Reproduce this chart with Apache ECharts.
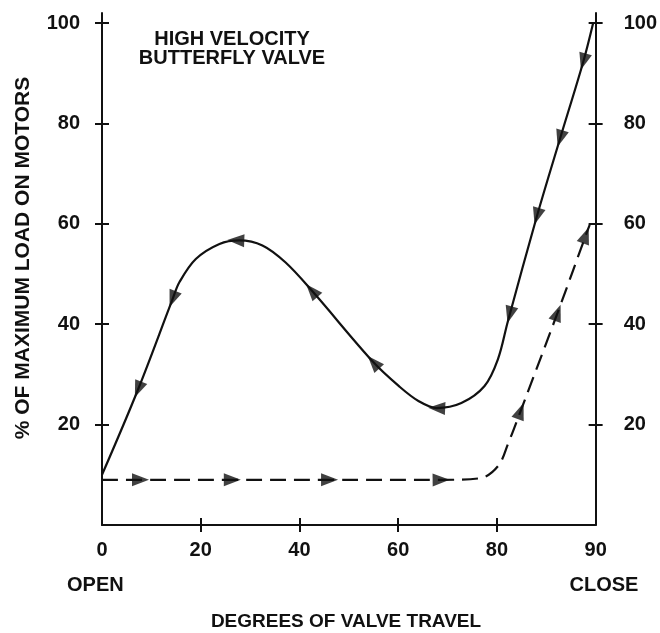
<!DOCTYPE html>
<html><head><meta charset="utf-8">
<script src="https://cdn.jsdelivr.net/npm/echarts@6/dist/echarts.min.js"></script>
<style>html,body{margin:0;padding:0;background:#fff}#c{width:660px;height:633px}</style>
</head><body><div id="c"></div>
<script>
// ---- data ----
const xTickValues = [0, 20, 40, 60, 80, 100];
const xTickLabels = ['0', '20', '40', '60', '80', '90'];
const xMinorTicks = [20, 40, 60, 80];
const yTickValues = [20, 40, 60, 80, 100];
const yTickLabels = ['20', '40', '60', '80', '100'];

// closing travel (solid line) — traversed from CLOSE back to OPEN
const closingX = [0, 7.3, 14.3, 15.7, 19, 23.8, 27.8, 32.5, 37.2, 42.5, 55, 60.1, 64.1, 67.8, 72.8, 77.5, 80.2, 82.2, 88.1, 92.8, 97.5, 99.5];
const closingY = [10, 27, 45, 48.4, 53, 56, 56.7, 55.7, 52.3, 46.7, 32.4, 27.7, 24.7, 23.3, 24.3, 27.7, 33, 40.5, 61.5, 77, 92.3, 100];
// opening travel (dashed line) — traversed from OPEN to CLOSE
const openingX = [0, 7.8, 26.4, 46.1, 68.7, 76.5, 80.2, 82.3, 84.8, 92.3, 98, 98.8];
const openingY = [9, 9, 9, 9, 9, 9.3, 11.7, 16.3, 22.7, 42.3, 57.7, 59.8];

// arrow heads
const closingArrowX = [97.5, 92.8, 88.1, 82.6, 67.8, 55, 42.5, 27.1, 14.3, 7.3];
const closingArrowY = [92.3, 77, 61.5, 41.9, 23.3, 32.4, 46.7, 56.7, 45, 27];
const openingArrowX = [7.8, 26.4, 46.1, 68.7, 84.8, 92.3, 98];
const openingArrowY = [9, 9, 9, 9, 22.7, 42.3, 57.7];

// ---- chart ----
const FONT = '"Liberation Sans", Arial, Helvetica, sans-serif';
const INK = '#111';
const pairs = (xs, ys) => xs.map((x, i) => [x, ys[i]]);
const closing = pairs(closingX, closingY);
const opening = pairs(openingX, openingY);

const chart = echarts.init(document.getElementById('c'), null, {renderer: 'canvas'});

const labelStyle = {color: INK, fontFamily: FONT, fontWeight: 'bold', fontSize: 20};
const tickLine = {color: INK, width: 2};

function xAxisDef(inside) {
  return {
    type: 'value', min: 0, max: 100, position: 'bottom',
    axisLine: {show: !inside, onZero: false, lineStyle: {color: INK, width: 2}},
    axisTick: {show: true, inside: inside, length: 7, customValues: xMinorTicks, lineStyle: tickLine},
    axisLabel: inside ? {show: false} : Object.assign({
      customValues: xTickValues, margin: 15,
      formatter: v => xTickLabels[xTickValues.indexOf(v)]
    }, labelStyle),
    splitLine: {show: false}
  };
}
function yAxisDef(pos, inside, margin) {
  return {
    type: 'value', min: 0, max: 102, position: pos,
    axisLine: {show: !inside, onZero: false, lineStyle: {color: INK, width: 2}},
    axisTick: {show: true, inside: inside, length: 7, customValues: yTickValues, lineStyle: tickLine},
    axisLabel: inside ? {show: false} : Object.assign({
      customValues: yTickValues, margin: margin,
      formatter: v => yTickLabels[yTickValues.indexOf(v)]
    }, labelStyle),
    splitLine: {show: false}
  };
}

const option = {
  animation: false,
  backgroundColor: '#fff',
  grid: {left: 102, right: 63, top: 13, bottom: 108, containLabel: false},
  xAxis: [xAxisDef(false), xAxisDef(true)],
  yAxis: [yAxisDef('left', false, 22), yAxisDef('left', true, 0), yAxisDef('right', false, 28), yAxisDef('right', true, 0)],
  series: [
    {type: 'line', name: 'closing', data: closing, showSymbol: false, smooth: 0.35, silent: true,
     lineStyle: {color: INK, width: 2.2}, z: 3},
    {type: 'line', name: 'opening', data: opening, showSymbol: false, smooth: 0.35, silent: true,
     lineStyle: {color: INK, width: 2.2, type: [16, 8]}, z: 3},
    {type: 'scatter', name: 'closingArrows', data: [], symbol: 'triangle', symbolSize: [13, 17], silent: true,
     itemStyle: {color: INK}, z: 5},
    {type: 'scatter', name: 'openingArrows', data: [], symbol: 'triangle', symbolSize: [13, 17], silent: true,
     itemStyle: {color: INK}, z: 5}
  ],
  graphic: [
    {type: 'text', x: 232, y: 39, style: {text: 'HIGH VELOCITY', fill: INK, font: 'bold 20px ' + FONT, align: 'center', verticalAlign: 'middle'}},
    {type: 'text', x: 232, y: 58, style: {text: 'BUTTERFLY VALVE', fill: INK, font: 'bold 20px ' + FONT, align: 'center', verticalAlign: 'middle'}},
    {type: 'text', x: 23, y: 258, rotation: Math.PI / 2, style: {text: '% OF MAXIMUM LOAD ON MOTORS', fill: INK, font: 'bold 21px ' + FONT, align: 'center', verticalAlign: 'middle'}},
    {type: 'text', x: 67, y: 585, style: {text: 'OPEN', fill: INK, font: 'bold 20px ' + FONT, align: 'left', verticalAlign: 'middle'}},
    {type: 'text', x: 604, y: 585, style: {text: 'CLOSE', fill: INK, font: 'bold 20px ' + FONT, align: 'center', verticalAlign: 'middle'}},
    {type: 'text', x: 346, y: 622, style: {text: 'DEGREES OF VALVE TRAVEL', fill: INK, font: 'bold 19px ' + FONT, align: 'center', verticalAlign: 'middle'}}
  ]
};
chart.setOption(option);

// arrow orientation from the curve tangent (pixel space), in direction of travel
function arrowItems(ax, ay, curve, sign) {
  const px = curve.map(p => chart.convertToPixel({seriesIndex: 0}, p));
  return ax.map((x, k) => {
    const a = chart.convertToPixel({seriesIndex: 0}, [x, ay[k]]);
    let best = 0, bd = Infinity;
    px.forEach((p, i) => { const d = (p[0]-a[0])**2 + (p[1]-a[1])**2; if (d < bd) { bd = d; best = i; } });
    const i0 = Math.max(0, best - 1), i1 = Math.min(px.length - 1, best + 1);
    const dx = (px[i1][0] - px[i0][0]) * sign, dy = (px[i1][1] - px[i0][1]) * sign;
    const ang = Math.atan2(-dy, dx) * 180 / Math.PI;
    return {value: [x, ay[k]], symbolRotate: ang - 90};
  });
}
chart.setOption({series: [
  {name: 'closing'}, {name: 'opening'},
  {name: 'closingArrows', data: arrowItems(closingArrowX, closingArrowY, closing, -1)},
  {name: 'openingArrows', data: arrowItems(openingArrowX, openingArrowY, opening, 1)}
]});
</script>
</body></html>
